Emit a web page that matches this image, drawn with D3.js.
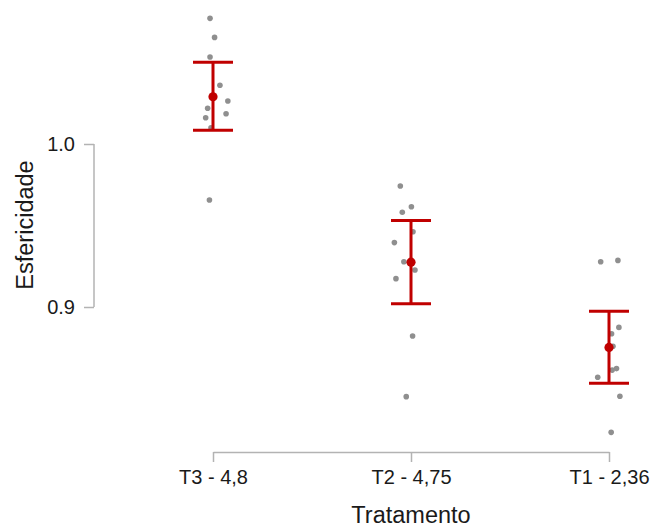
<!DOCTYPE html>
<html><head><meta charset="utf-8">
<script src="https://cdn.jsdelivr.net/npm/d3@7/dist/d3.min.js"></script>
<style>body{margin:0;background:#fff}svg{display:block}text{font-family:"Liberation Sans",Arial,sans-serif}</style>
</head><body><svg id="c" width="653" height="527"></svg>
<script>
const categories = ["T3 - 4,8", "T2 - 4,75", "T1 - 2,36"];
const pointsT3 = [1.0771, 1.0654, 1.0534, 1.0360, 1.0264, 1.0219, 1.0161, 1.0186, 1.0100, 0.9656];
const pointsT2 = [0.9742, 0.9615, 0.9581, 0.9462, 0.9395, 0.9278, 0.9227, 0.9174, 0.8822, 0.8450];
const pointsT1 = [0.9278, 0.9286, 0.8875, 0.8836, 0.8759, 0.8622, 0.8613, 0.8569, 0.8452, 0.8231];
const jitterT3 = [-0.015, 0.008, -0.015, 0.035, 0.075, -0.027, -0.037, 0.066, -0.01, -0.018];
const jitterT2 = [-0.054, 0.002, -0.044, 0.01, -0.084, -0.036, 0.02, -0.076, 0.008, -0.024];
const jitterT1 = [-0.042, 0.045, 0.05, 0.013, 0.02, 0.038, 0.016, -0.057, 0.055, 0.011];
const means = [1.0290, 0.9275, 0.8752];
const ciLower = [1.0084, 0.9020, 0.8532];
const ciUpper = [1.0501, 0.9530, 0.8974];
const yTicks = [0.9, 1.0];
const xTitle = "Tratamento";
const yTitle = "Esfericidade";

const svg = d3.select("#c");
const x = d3.scalePoint().domain(categories).range([213, 609]);
const step = x(categories[1]) - x(categories[0]);
const y = d3.scaleLinear().domain([0.9, 1.0]).range([307, 144]);
const axisColor = "#b3b3b3";
const textColor = "#1a1a1a";

// y axis
const gy = svg.append("g").attr("transform", "translate(94,0)")
  .call(d3.axisLeft(y).tickValues(yTicks).tickFormat(d3.format(".1f")).tickSize(10).tickPadding(9));
gy.select(".domain").remove();
gy.append("line").attr("x1", 0).attr("x2", 0).attr("y1", y(yTicks[0])).attr("y2", y(yTicks[yTicks.length-1]))
  .attr("stroke", axisColor).attr("stroke-width", 1.5);
gy.selectAll(".tick line").attr("stroke", axisColor).attr("stroke-width", 1.5);
gy.selectAll(".tick text").attr("fill", textColor).style("font-size", "20px").attr("font-family", null);

// x axis
const gx = svg.append("g").attr("transform", "translate(0,452)")
  .call(d3.axisBottom(x).tickSize(10).tickSizeOuter(0).tickPadding(8));
gx.select(".domain").attr("stroke", axisColor).attr("stroke-width", 1.5);
gx.selectAll(".tick line").attr("stroke", axisColor).attr("stroke-width", 1.5);
gx.selectAll(".tick text").attr("fill", textColor).style("font-size", "20px").attr("font-family", null);

// titles
svg.append("text").attr("x", 411).attr("y", 523).attr("text-anchor", "middle")
  .style("font-size", "23.5px").attr("fill", textColor).text(xTitle);
svg.append("text").attr("transform", "translate(33,225) rotate(-90)").attr("text-anchor", "middle")
  .style("font-size", "23.5px").attr("fill", textColor).text(yTitle);

// points
const groups = [[pointsT3, jitterT3], [pointsT2, jitterT2], [pointsT1, jitterT1]];
groups.forEach(([vals, jit], i) => {
  svg.append("g").selectAll("circle").data(vals).join("circle")
    .attr("cx", (d, j) => x(categories[i]) + jit[j] * step)
    .attr("cy", d => y(d))
    .attr("r", 2.8).attr("fill", "#8f8f8f");
});

// error bars
const red = "#c00000";
const cap = 20;
const eb = svg.append("g");
categories.forEach((c, i) => {
  const cx = x(c);
  eb.append("line").attr("x1", cx).attr("x2", cx).attr("y1", y(ciUpper[i])).attr("y2", y(ciLower[i]))
    .attr("stroke", red).attr("stroke-width", 3);
  [ciUpper[i], ciLower[i]].forEach(v => {
    eb.append("line").attr("x1", cx - cap).attr("x2", cx + cap).attr("y1", y(v)).attr("y2", y(v))
      .attr("stroke", red).attr("stroke-width", 3);
  });
  eb.append("circle").attr("cx", cx).attr("cy", y(means[i])).attr("r", 4.6).attr("fill", red);
});
</script></body></html>
